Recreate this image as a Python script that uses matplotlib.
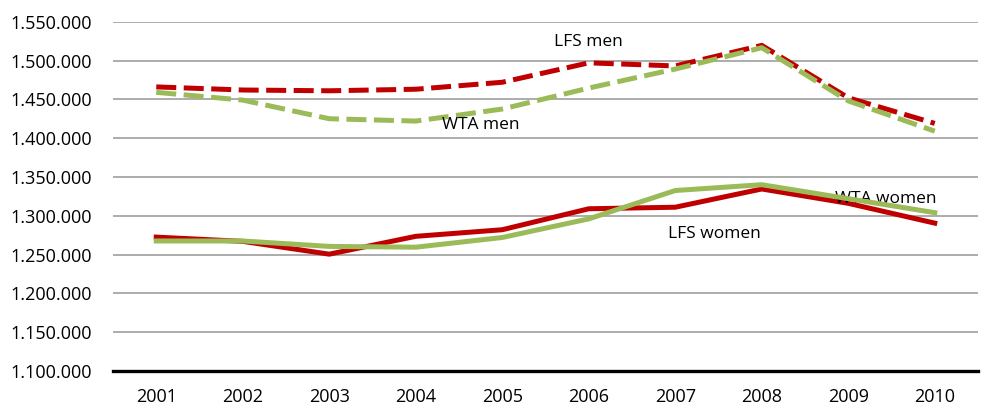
import matplotlib
matplotlib.use("Agg")
import matplotlib.pyplot as plt
from matplotlib.ticker import FuncFormatter, MultipleLocator

years = ["2001", "2002", "2003", "2004", "2005", "2006", "2007", "2008", "2009", "2010"]
lfs_men = [1466000, 1462000, 1461000, 1463000, 1472000, 1497000, 1493000, 1519500, 1452000, 1419000]
wta_men = [1459000, 1449000, 1425000, 1422000, 1437500, 1464500, 1489000, 1516500, 1448000, 1409000]
lfs_women = [1272500, 1267000, 1250500, 1273500, 1282000, 1309000, 1311000, 1334500, 1316000, 1290500]
wta_women = [1267500, 1267500, 1260500, 1259500, 1272000, 1296000, 1332500, 1340000, 1322000, 1304000]

RED = "#C00000"
GREEN = "#9BBB59"

plt.rcParams['font.family'] = ['Open Sans', 'DejaVu Sans']

fig = plt.figure(figsize=(9.86, 4.08), dpi=100)
ax = fig.add_axes([0.1146, 0.0907, 0.8773, 0.8561])

x = list(range(len(years)))
lw = 3.6
ax.plot(x, lfs_men, color=RED, lw=lw, dashes=(4, 1.5), zorder=3)
ax.plot(x, wta_men, color=GREEN, lw=lw, dashes=(4, 1.5), zorder=3)
ax.plot(x, lfs_women, color=RED, lw=lw, zorder=3)
ax.plot(x, wta_women, color=GREEN, lw=lw, zorder=4)

ax.set_xlim(-0.5, len(years) - 0.5)
ax.set_ylim(1100000, 1550000)
ax.yaxis.set_major_locator(MultipleLocator(50000))
ax.yaxis.set_major_formatter(FuncFormatter(lambda v, p: f"{int(round(v)):,}".replace(",", ".")))
ax.set_xticks(x)
ax.set_xticklabels(years)

ax.grid(axis='y', color='#A6A6A6', lw=1.3, zorder=0)
ax.set_axisbelow(True)
for s in ['top', 'right', 'left']:
    ax.spines[s].set_visible(False)
ax.spines['bottom'].set_color('black')
ax.spines['bottom'].set_linewidth(2.4)
ax.spines['bottom'].set_zorder(5)
ax.tick_params(axis='both', length=0, labelsize=13, colors='black')
ax.tick_params(axis='y', pad=15)
ax.tick_params(axis='x', pad=12)

fs = 12.5
ax.text(5.0, 1524000, "LFS men", fontsize=fs, ha='center', va='center')
ax.text(3.75, 1417000, "WTA men", fontsize=fs, ha='center', va='center')
ax.text(8.43, 1322000, "WTA women", fontsize=fs, ha='center', va='center')
ax.text(6.45, 1276000, "LFS women", fontsize=fs, ha='center', va='center')

fig.savefig("out.png", dpi=100)
